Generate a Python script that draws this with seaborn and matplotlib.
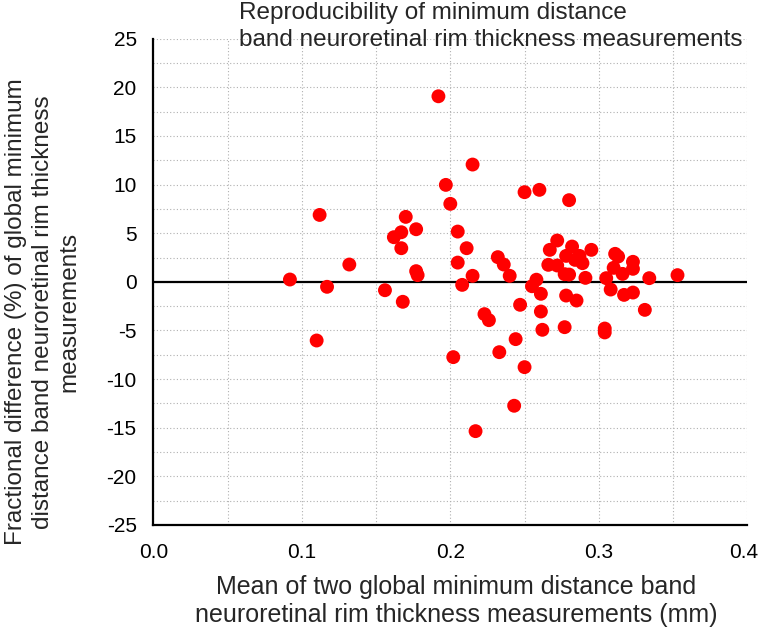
import matplotlib
matplotlib.use("Agg")
import matplotlib.pyplot as plt
import matplotlib.transforms as mtransforms
import seaborn as sns
import pandas as pd
from matplotlib.ticker import MultipleLocator

mean_mm = [0.092, 0.110, 0.112, 0.117, 0.132, 0.156, 0.162, 0.167, 0.167, 0.168,
           0.170, 0.177, 0.177, 0.178, 0.192, 0.197, 0.200, 0.202, 0.205, 0.205,
           0.208, 0.211, 0.215, 0.215, 0.217, 0.223, 0.226, 0.232, 0.233, 0.236,
           0.240, 0.243, 0.244, 0.247, 0.250, 0.250, 0.255, 0.258, 0.260, 0.261,
           0.261, 0.262, 0.266, 0.267, 0.272, 0.272, 0.277, 0.277, 0.278, 0.278,
           0.280, 0.280, 0.282, 0.284, 0.285, 0.287, 0.289, 0.291, 0.295, 0.304,
           0.304, 0.305, 0.308, 0.310, 0.311, 0.313, 0.316, 0.317, 0.323, 0.323,
           0.323, 0.331, 0.334, 0.353]
frac_diff = [0.24, -6.03, 6.88, -0.51, 1.78, -0.86, 4.59, 5.10, 3.46, -2.05,
             6.68, 5.41, 1.10, 0.69, 19.08, 9.97, 8.02, -7.74, 5.17, 1.98,
             -0.31, 3.46, 12.06, 0.62, -15.35, -3.32, -3.94, 2.54, -7.23, 1.78,
             0.62, -12.74, -5.89, -2.36, -8.77, 9.22, -0.45, 0.22, 9.46, -1.23,
             -3.05, -4.93, 1.75, 3.29, 4.25, 1.68, 0.79, -4.66, 2.67, -1.41,
             0.75, 8.40, 3.63, 2.26, -1.92, 2.67, 1.92, 0.41, 3.29, -4.80,
             -5.20, 0.38, -0.79, 1.44, 2.88, 2.60, 0.82, -1.34, 2.06, 1.34,
             -1.10, -2.88, 0.38, 0.69]

x_ticks = [0.0, 0.1, 0.2, 0.3, 0.4]
x_ticklabels = ["0.0", "0.1", "0.2", "0.3", "0.4"]
y_ticks = [-25, -20, -15, -10, -5, 0, 5, 10, 15, 20, 25]
y_ticklabels = ["-25", "-20", "-15", "-10", "-5", "0", "5", "10", "15", "20", "25"]

title_text = "Reproducibility of minimum distance\nband neuroretinal rim thickness measurements"
x_label = "Mean of two global minimum distance band\nneuroretinal rim thickness measurements (mm)"
y_label = "Fractional difference (%) of global minimum\ndistance band neuroretinal rim thickness\nmeasurements"

df = pd.DataFrame({"mean": mean_mm, "diff": frac_diff})

sns.set_style("white")
plt.rcParams["font.family"] = ["Liberation Sans", "DejaVu Sans"]

fig = plt.figure(figsize=(7.6, 6.31), dpi=100)
ax = fig.add_axes([153.3 / 760, 1 - 525 / 631, (747.3 - 153.3) / 760, (525 - 38.7) / 631])

ax.set_xlim(0.0, 0.4)
ax.set_ylim(-25, 25)

ax.xaxis.set_minor_locator(MultipleLocator(0.05))
ax.yaxis.set_minor_locator(MultipleLocator(2.5))
ax.set_xticks(x_ticks)
ax.set_xticklabels(x_ticklabels)
ax.set_yticks(y_ticks)
ax.set_yticklabels(y_ticklabels)

ax.grid(True, which="both", color="#b0b0b0", linestyle=(0, (1, 2)), linewidth=0.8)
ax.set_axisbelow(True)

ax.axhline(0, color="black", linewidth=1.6, zorder=2)

sns.scatterplot(data=df, x="mean", y="diff", ax=ax, color="#ff0000", s=100,
                edgecolor="none", linewidth=0, zorder=3, legend=False)

for side in ["top", "right"]:
    ax.spines[side].set_visible(False)
for side in ["left", "bottom"]:
    ax.spines[side].set_linewidth(1.6)
    ax.spines[side].set_color("black")

ax.tick_params(axis="both", which="major", direction="out", length=8, width=1.6,
               labelsize=15, colors="black", pad=4)
ax.tick_params(axis="both", which="minor", direction="out", length=5, width=1.6,
               colors="black")
ax.tick_params(axis="x", which="major", pad=5)

# keep the last x tick label inside the canvas
last = ax.get_xticklabels()[-1]
last.set_transform(last.get_transform() +
                   mtransforms.ScaledTranslation(-4 / 100, 0, fig.dpi_scale_trans))

ax.set_xlabel("")
ax.set_ylabel("")

fig.text(239 / 760, 1 - 2 / 631, title_text, ha="left", va="top", fontsize=17.5,
         linespacing=1.27)
fig.text(456 / 760, 1 - 601 / 631, x_label, ha="center", va="center", fontsize=18,
         linespacing=1.24, multialignment="center")
fig.text(43 / 760, 1 - 312 / 631, y_label, ha="center", va="center", fontsize=17.5,
         rotation=90, linespacing=1.27, multialignment="center")

fig.savefig("out.png", dpi=100)
